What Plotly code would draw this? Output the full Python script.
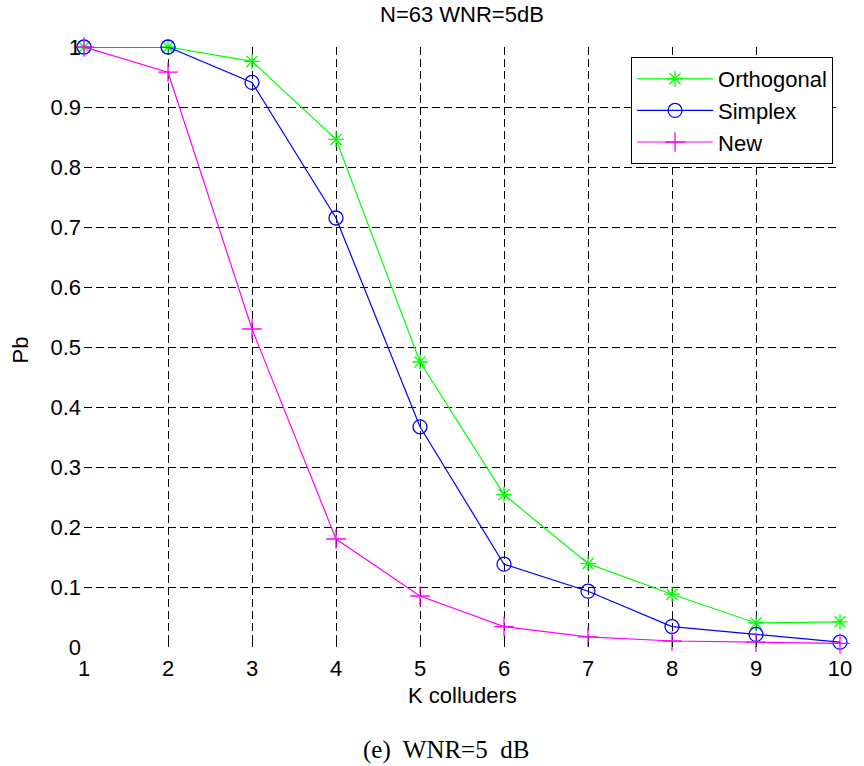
import plotly.graph_objects as go

K = [1, 2, 3, 4, 5, 6, 7, 8, 9, 10]
orthogonal = [1.0, 1.0, 0.976, 0.846, 0.475, 0.254, 0.139, 0.088, 0.040, 0.042]
simplex = [1.0, 1.0, 0.941, 0.715, 0.367, 0.138, 0.093, 0.034, 0.021, 0.008]
new = [1.0, 0.958, 0.530, 0.180, 0.085, 0.034, 0.017, 0.010, 0.008, 0.006]

x_ticks = [1, 2, 3, 4, 5, 6, 7, 8, 9, 10]
y_ticks = [0, 0.1, 0.2, 0.3, 0.4, 0.5, 0.6, 0.7, 0.8, 0.9, 1]
y_ticklabels = ["0", "0.1", "0.2", "0.3", "0.4", "0.5", "0.6", "0.7", "0.8", "0.9", "1"]

FONT = "Liberation Sans, Arial, sans-serif"
FS = 22

fig = go.Figure()
fig.add_trace(go.Scatter(x=K, y=orthogonal, name="Orthogonal", mode="lines+markers",
                         line=dict(color="#00FF00", width=1.2),
                         marker=dict(symbol="asterisk-open", size=13, color="#00FF00",
                                     line=dict(color="#00FF00", width=1.3)),
                         cliponaxis=False))
fig.add_trace(go.Scatter(x=K, y=simplex, name="Simplex", mode="lines+markers",
                         line=dict(color="#0000FF", width=1.2),
                         marker=dict(symbol="circle-open", size=14, color="#0000FF",
                                     line=dict(color="#0000FF", width=1.3)),
                         cliponaxis=False))
fig.add_trace(go.Scatter(x=K, y=new, name="New", mode="lines+markers",
                         line=dict(color="#FF00FF", width=1.2),
                         marker=dict(symbol="cross-thin-open", size=14, color="#FF00FF",
                                     line=dict(color="#FF00FF", width=1.3)),
                         cliponaxis=False))

axis_common = dict(showgrid=True, gridcolor="black", griddash="8px,4px", gridwidth=1,
                   zeroline=False, showline=False, ticks="inside", ticklen=5,
                   tickcolor="black", tickfont=dict(family=FONT, size=FS, color="black"))

pl, pr, pt, pb = 84, 864 - 19, 47, 766 - 119


def px_x(v):
    return (v - pl) / (pr - pl)


def px_y(v):
    return (pb - v) / (pb - pt)


fig.update_layout(
    width=864, height=766,
    paper_bgcolor="white", plot_bgcolor="white",
    margin=dict(l=pl, r=864 - pr, t=pt, b=766 - pb),
    showlegend=True,
    legend=dict(x=px_x(838), y=px_y(57), xanchor="right", yanchor="top",
                bgcolor="white", bordercolor="black", borderwidth=1,
                font=dict(family=FONT, size=FS, color="black"),
                itemwidth=76, tracegroupgap=0),
    xaxis=dict(range=[1, 10], tickvals=x_ticks, ticktext=[str(v) for v in x_ticks],
               ticklabelstandoff=6, **axis_common),
    yaxis=dict(range=[0, 1], tickvals=y_ticks, ticktext=y_ticklabels,
               ticklabelstandoff=2, **axis_common),
    annotations=[
        dict(text="N=63 WNR=5dB", x=px_x(465), y=px_y(14), xref="paper", yref="paper",
             showarrow=False, font=dict(family=FONT, size=FS, color="black"),
             xanchor="center", yanchor="middle"),
        dict(text="K colluders", x=px_x(465), y=px_y(695), xref="paper", yref="paper",
             showarrow=False, font=dict(family=FONT, size=FS, color="black"),
             xanchor="center", yanchor="middle"),
        dict(text="Pb", x=px_x(20), y=px_y(350), textangle=-90, xref="paper", yref="paper",
             showarrow=False, font=dict(family=FONT, size=FS, color="black"),
             xanchor="center", yanchor="middle"),
        dict(text="(e)&nbsp; WNR=5&nbsp; dB", x=px_x(448), y=px_y(750), xref="paper",
             yref="paper", showarrow=False,
             font=dict(family="Liberation Serif, Times New Roman, serif", size=25, color="black"),
             xanchor="center", yanchor="middle"),
    ],
)

fig.write_html("out.html", config={"displayModeBar": False},
               post_script="document.body.style.margin='0';")
